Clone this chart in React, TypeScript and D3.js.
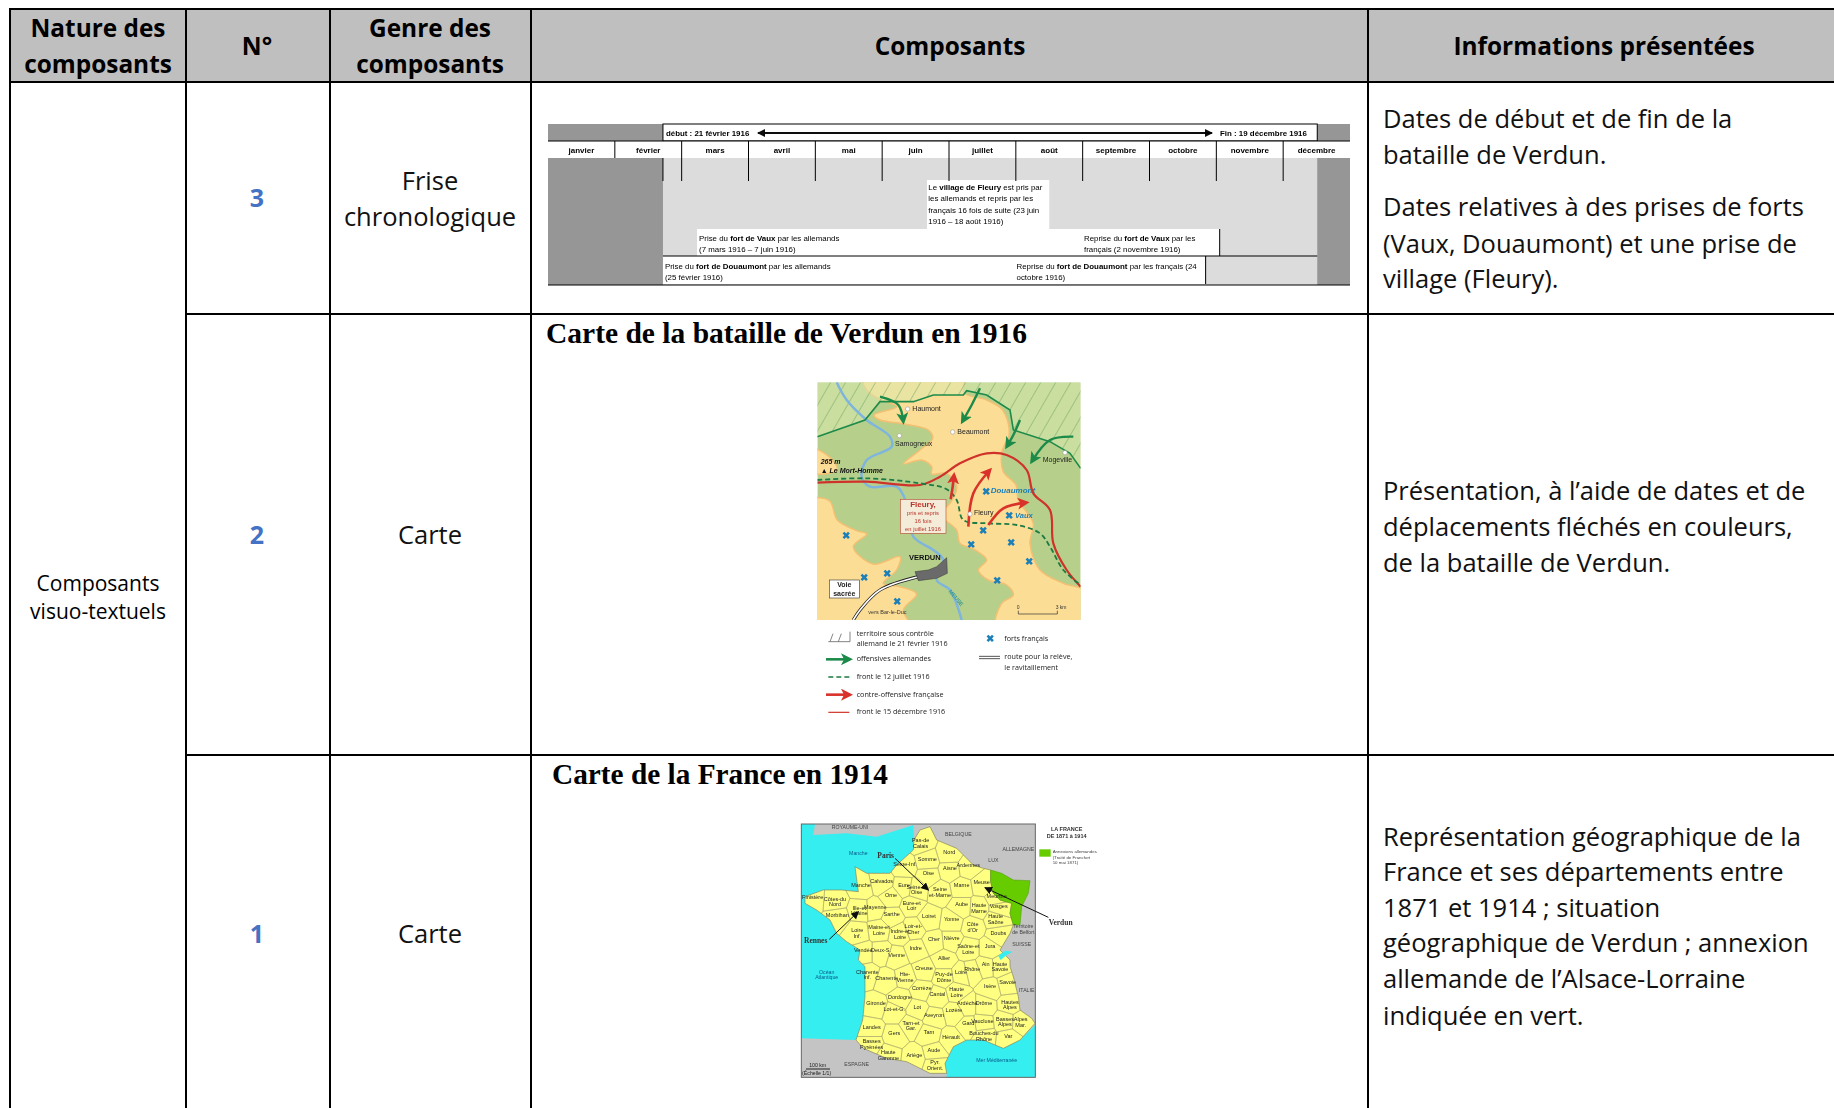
import * as React from 'react';
import { scaleLinear, scaleBand, line, curveCatmullRom, curveCatmullRomClosed, curveLinear, Delaunay } from 'd3';

type Pt = [number, number];

// table
const colLines = [10, 186, 330, 531, 1368];
const rowLines = [9, 82, 314, 755];
const headerLabels: [string[], number][] = [
    [['Nature des', 'composants'], 98],
    [['N°'], 257],
    [['Genre des', 'composants'], 430],
    [['Composants'], 950],
    [['Informations présentées'], 1604],
];
const rowNumbers: [string, number][] = [['3', 198], ['2', 535], ['1', 934]];
const genres: [string, number][] = [['Frise', 190], ['chronologique', 226], ['Carte', 544], ['Carte', 943]];
const infoLines: [string, number][] = [
    ['Dates de début et de fin de la', 128],
    ['bataille de Verdun.', 164],
    ['Dates relatives à des prises de forts', 216],
    ['(Vaux, Douaumont) et une prise de', 253],
    ['village (Fleury).', 288],
    ['Présentation, à l’aide de dates et de', 500],
    ['déplacements fléchés en couleurs,', 536],
    ['de la bataille de Verdun.', 572],
    ['Représentation géographique de la', 846],
    ['France et ses départements entre', 881],
    ['1871 et 1914 ; situation', 917],
    ['géographique de Verdun ; annexion', 952],
    ['allemande de l’Alsace-Lorraine', 988],
    ['indiquée en vert.', 1025],
];

// frise: positions in months since 1 January 1916
const months = ['janvier', 'février', 'mars', 'avril', 'mai', 'juin', 'juillet', 'août', 'septembre', 'octobre', 'novembre', 'décembre'];
const battleStart = 1.72;
const battleEnd = 11.51;
type Seg = [string, boolean];
type TimelineNote = { at: number; y: number; segs: Seg[] };
const timelineBoxes: [number, number, number, number][] = [
    [5.67, 7.5, 180, 229],
    [2.23, 10.05, 229, 256],
    [1.72, 9.84, 256, 284],
];
const timelineNotes: TimelineNote[] = [
    { at: 5.69, y: 190, segs: [['Le ', false], ['village de Fleury', true], [' est pris par', false]] },
    { at: 5.69, y: 201, segs: [['les allemands et repris par les', false]] },
    { at: 5.69, y: 213, segs: [['français 16 fois de suite (23 juin', false]] },
    { at: 5.69, y: 224, segs: [['1916 – 18 août 1916)', false]] },
    { at: 2.26, y: 241, segs: [['Prise du ', false], ['fort de Vaux', true], [' par les allemands', false]] },
    { at: 2.26, y: 252, segs: [['(7 mars 1916 – 7 juin 1916)', false]] },
    { at: 8.02, y: 241, segs: [['Reprise du ', false], ['fort de Vaux', true], [' par les', false]] },
    { at: 8.02, y: 252, segs: [['français (2 novembre 1916)', false]] },
    { at: 1.75, y: 269, segs: [['Prise du ', false], ['fort de Douaumont', true], [' par les allemands', false]] },
    { at: 1.75, y: 280, segs: [['(25 février 1916)', false]] },
    { at: 7.01, y: 269, segs: [['Reprise du ', false], ['fort de Douaumont', true], [' par les français (24', false]] },
    { at: 7.01, y: 280, segs: [['octobre 1916)', false]] },
];

// carte de Verdun, outlines (picture units, 3 per pixel)
const verdunLandNorth: Pt[] = [[190, 20], [490, 20], [492, 68], [560, 90], [608, 120], [628, 190], [606, 245], [610, 305], [648, 345], [655, 390], [700, 460], [690, 520], [720, 600], [790, 640], [860, 665], [860, 770], [590, 770], [605, 700], [640, 675], [620, 645], [565, 630], [535, 600], [560, 570], [525, 540], [480, 520], [470, 480], [420, 432], [450, 400], [470, 350], [440, 310], [395, 312], [395, 290], [365, 270], [310, 282], [360, 240], [398, 205], [385, 180], [300, 160], [240, 150], [222, 135], [290, 110], [240, 88], [200, 60]];
const verdunLandWest: Pt[] = [[30, 392], [88, 392], [112, 450], [170, 482], [200, 492], [160, 530], [220, 582], [300, 560], [290, 600], [250, 640], [300, 650], [350, 672], [310, 720], [330, 770], [30, 770]];
const verdunLandSmall: Pt[] = [[30, 235], [90, 262], [112, 300], [30, 306]];
const verdunHatched: Pt[] = [[52, 37], [842, 37], [842, 295], [810, 250], [750, 215], [640, 180], [630, 120], [560, 75], [500, 62], [490, 75], [400, 75], [340, 95], [240, 95], [195, 150], [52, 200]];
const germanLine: Pt[] = [[52, 200], [195, 150], [240, 95], [340, 95], [400, 75], [490, 75], [500, 62], [560, 75], [630, 120], [640, 180], [750, 215], [810, 250], [842, 295]];
const meuse: Pt[] = [[110, 37], [140, 90], [200, 150], [270, 200], [275, 230], [200, 270], [185, 320], [210, 350], [290, 350], [320, 400], [340, 500], [400, 540], [430, 570], [410, 630], [450, 660], [485, 750]];
const frontDec: Pt[] = [[52, 338], [200, 335], [360, 345], [420, 320], [480, 280], [560, 250], [620, 255], [680, 300], [700, 370], [750, 420], [760, 520], [800, 600], [842, 650]];
const frontJul: Pt[] = [[52, 330], [200, 325], [360, 340], [440, 358], [470, 390], [490, 450], [560, 460], [650, 465], [720, 490], [750, 530], [790, 600], [842, 645]];
const germanArrows: Pt[][] = [
    [[240, 80], [295, 105], [310, 155]],
    [[540, 55], [515, 105], [487, 155]],
    [[660, 150], [640, 195], [620, 230]],
    [[820, 200], [750, 210], [695, 275]],
];
const frenchArrows: Pt[][] = [
    [[452, 388], [458, 350], [462, 315]],
    [[505, 470], [520, 370], [570, 300]],
    [[565, 465], [610, 415], [680, 398]],
];
const forts: Pt[] = [[557, 363], [628, 437], [549, 482], [512, 523], [634, 517], [686, 575], [591, 630], [138, 495], [193, 621], [262, 609], [292, 695]];
const villages: Pt[] = [[323, 117], [458, 186], [298, 197], [795, 248], [510, 432]];
const verdunTown: Pt[] = [[345, 605], [385, 600], [410, 590], [440, 563], [442, 610], [410, 625], [355, 632]];
const sacredRoad: Pt[] = [[355, 620], [240, 660], [180, 720], [160, 750]];
const verdunLabels: [string, number, number, number, string, string][] = [
    ['Haumont', 337, 122, 7, '#222', 'normal'],
    ['Beaumont', 472, 191, 7, '#222', 'normal'],
    ['Samogneux', 285, 229, 7, '#222', 'normal'],
    ['Mogeville', 728, 277, 7, '#222', 'normal'],
    ['Fleury', 522, 434, 7, '#222', 'normal'],
    ['VERDUN', 327, 569, 7.5, '#111', 'bold'],
    ['vers Bar-le-Duc', 205, 732, 5.5, '#333', 'normal'],
    ['0', 650, 716, 5, '#333', 'normal'],
    ['3 km', 767, 716, 5, '#333', 'normal'],
];
const verdunItalic: [string, number, number, number, string][] = [
    ['265 m', 62, 281, 7, '#111'],
    ['▲ Le Mort-Homme', 62, 308, 7, '#111'],
    ['Douaumont', 572, 368, 8, '#1c7fb8'],
    ['Vaux', 645, 444, 7.5, '#1c7fb8'],
];
const fleuryBox: [string, number, number, string][] = [
    ['Fleury,', 369, 410, 'bold'],
    ['pris et repris', 369, 434, 'normal'],
    ['16 fois', 369, 458, 'normal'],
    ['en juillet 1916', 369, 483, 'normal'],
];
const verdunLegend: [string, number, number][] = [
    ['territoire sous contrôle', 170, 77],
    ['allemand le 21 février 1916', 170, 109],
    ['offensives allemandes', 170, 154],
    ['front le 12 juillet 1916', 170, 207],
    ['contre-offensive française', 170, 261],
    ['front le 15 décembre 1916', 170, 313],
    ['forts français', 613, 92],
    ['route pour la relève,', 613, 147],
    ['le ravitaillement', 613, 179],
];

// carte de France (picture units, 3 per pixel)
const franceOutline: Pt[] = [[402, 90], [420, 60], [450, 50], [470, 90], [530, 115], [580, 165], [610, 175], [632, 180], [632, 215], [640, 250], [660, 270], [695, 280], [690, 310], [700, 345], [690, 370], [660, 420], [690, 450], [690, 470], [700, 500], [715, 560], [720, 600], [755, 625], [765, 640], [720, 690], [670, 715], [610, 690], [560, 690], [520, 710], [495, 760], [500, 790], [450, 790], [380, 755], [320, 745], [250, 715], [228, 690], [248, 630], [255, 560], [255, 470], [235, 450], [240, 420], [200, 395], [170, 370], [150, 330], [110, 300], [75, 280], [75, 260], [130, 240], [185, 240], [235, 245], [225, 170], [260, 190], [330, 190], [350, 165], [400, 120]];
const alsaceLorraine: Pt[] = [[632, 180], [665, 190], [700, 210], [750, 212], [745, 250], [725, 290], [720, 345], [700, 345], [690, 310], [695, 280], [660, 270], [640, 250], [632, 215]];
const atlantic: Pt[] = [[64, 42], [105, 42], [100, 75], [200, 70], [290, 80], [400, 45], [402, 90], [400, 120], [350, 165], [330, 190], [260, 190], [225, 170], [235, 245], [185, 240], [130, 240], [75, 260], [75, 280], [110, 300], [150, 330], [170, 370], [200, 395], [240, 420], [235, 450], [255, 470], [255, 560], [248, 630], [228, 690], [64, 685]];
const mediterranean: Pt[] = [[500, 802], [500, 790], [495, 760], [520, 710], [560, 690], [610, 690], [670, 715], [720, 690], [766, 645], [766, 802]];
const leman: Pt[] = [[655, 438], [675, 422], [698, 425], [680, 435], [662, 450]];
const departments: [string[], number, number][] = [
    [['Pas-de', 'Calais'], 422, 92], [['Nord'], 508, 128], [['Somme'], 442, 148], [['Aisne'], 510, 175], [['Ardennes'], 565, 168], [['Oise'], 445, 192],
    [['Seine-Inf.'], 375, 165], [['Eure'], 372, 226], [['Calvados'], 305, 215], [['Manche'], 243, 228], [['Orne'], 333, 257], [['Seine-et', 'Oise'], 410, 232],
    [['Seine', 'et-Marne'], 480, 240], [['Marne'], 545, 228], [['Meuse'], 605, 218], [['Meurthe'], 650, 260], [['Vosges'], 656, 290], [['Aube'], 545, 285],
    [['Haute', 'Marne'], 597, 288], [['Côtes-du', 'Nord'], 165, 268], [['Finistère'], 98, 263], [['Morbihan'], 172, 316], [['Ille-et', 'Vilaine'], 238, 295],
    [['Mayenne'], 286, 293], [['Sarthe'], 335, 315], [['Eure-et', 'Loir'], 395, 280], [['Loiret'], 447, 320], [['Yonne'], 515, 330], [['Côte', 'd’Or'], 578, 345],
    [['Haute', 'Saône'], 647, 320], [['Doubs'], 655, 372], [['Loire', 'Inf.'], 232, 362], [['Maine-et', 'Loire'], 297, 353], [['Indre-et', 'Loire'], 360, 365],
    [['Loir-et-', 'Cher'], 400, 350], [['Cher'], 462, 390], [['Nièvre'], 515, 385], [['Saône-et', 'Loire'], 565, 410], [['Jura'], 630, 410], [['Vendée'], 250, 423],
    [['Deux-S.'], 303, 423], [['Vienne'], 350, 437], [['Indre'], 407, 415], [['Allier'], 492, 445], [['Ain'], 617, 465], [['Haute', 'Savoie'], 660, 463],
    [['Savoie'], 683, 517], [['Rhône'], 577, 480], [['Isère'], 630, 530], [['Loire'], 543, 488], [['Creuse'], 432, 475], [['Puy-de', 'Dôme'], 492, 495],
    [['Hte-', 'Vienne'], 375, 495], [['Charente', 'Inf.'], 262, 487], [['Charente'], 320, 505], [['Dordogne'], 360, 562], [['Corrèze'], 425, 535], [['Cantal'], 472, 555],
    [['Haute', 'Loire'], 530, 540], [['Ardèche'], 562, 582], [['Drôme'], 612, 582], [['Hautes', 'Alpes'], 690, 577], [['Gironde'], 288, 582], [['Lot'], 412, 593],
    [['Lozère'], 522, 603], [['Aveyron'], 462, 617], [['Lot-et-G.'], 343, 600], [['Landes'], 275, 652], [['Gers'], 343, 672], [['Tarn-et', 'Gar.'], 393, 640],
    [['Tarn'], 447, 668], [['Gard'], 565, 642], [['Vaucluse'], 607, 635], [['Basses', 'Alpes'], 675, 628], [['Alpes', 'Mar.'], 722, 630], [['Hérault'], 513, 683],
    [['Bouches-du', 'Rhône'], 612, 672], [['Var'], 685, 680], [['Haute', 'Garonne'], 325, 728], [['Basses', 'Pyrénées'], 275, 695], [['Ariège'], 403, 737], [['Aude'], 462, 722], [['Pyr.', 'Orient.'], 465, 758],
];
const francePlaces: [string[], number, number, string][] = [
    [['ROYAUME-UNI'], 210, 57, '#444'], [['BELGIQUE'], 535, 77, '#444'], [['ALLEMAGNE'], 715, 122, '#444'], [['LUX'], 640, 157, '#444'],
    [['Territoire', 'de Belfort'], 730, 355, '#444'], [['SUISSE'], 725, 407, '#444'], [['ITALIE'], 740, 547, '#444'], [['ESPAGNE'], 230, 767, '#444'],
    [['Manche'], 235, 135, '#0a5c8c'], [['Océan', 'Atlantique'], 140, 492, '#0a5c8c'], [['Mer Méditerranée'], 650, 757, '#0a5c8c'],
    [['100 km'], 113, 770, '#222'], [['(Échelle 1/1)'], 110, 795, '#222'],
];
const franceCities: [string, number, number][] = [['Paris', 292, 144], ['Rennes', 72, 399], ['Verdun', 806, 344]];
const cityArrows: Pt[][] = [
    [[345, 145], [445, 240]],
    [[148, 388], [235, 305]],
    [[805, 322], [615, 233]],
];
const franceLegend: [string, number, number, string][] = [
    ['Annexions allemandes', 818, 130, 'normal'],
    ['(Traité de Francfort', 818, 146, 'normal'],
    ['10 mai 1871)', 818, 161, 'normal'],
];

const uiFont = '"Open Sans", sans-serif';
const arial = '"Liberation Sans", Arial, sans-serif';
const times = '"Liberation Serif", serif';

const mapX = scaleLinear().domain([0, 900]).range([800, 1100]);
const mapY = scaleLinear().domain([0, 780]).range([370, 630]);
const legendY = scaleLinear().domain([0, 360]).range([610, 730]);
const frX = scaleLinear().domain([0, 1020]).range([780, 1120]);
const frY = scaleLinear().domain([0, 894]).range([810, 1108]);
const monthBand = scaleBand<string>().domain(months).range([548, 1350]);
const monthPos = scaleLinear().domain([0, 12]).range([548, 1350]);

const smooth = line<Pt>().x(d => mapX(d[0])).y(d => mapY(d[1])).curve(curveCatmullRom);
const landPath = line<Pt>().x(d => mapX(d[0])).y(d => mapY(d[1])).curve(curveCatmullRomClosed);
const frPath = line<Pt>().x(d => frX(d[0])).y(d => frY(d[1])).curve(curveLinear);
const mapPoly = line<Pt>().x(d => mapX(d[0])).y(d => mapY(d[1])).curve(curveLinear);

const franceCells = () => {
    const sites = departments.map(d => [d[1], d[2] + 6] as Pt);
    const vor = Delaunay.from(sites).voronoi([64, 42, 766, 802]);
    return sites.map((_, i) => vor.renderCell(i));
};

export default function App() {
    React.useEffect(() => {
        document.body.style.margin = '0';
    }, []);

    const frTransform = `translate(${frX(0)},${frY(0)}) scale(${1 / 3})`;

    return (
        <svg width={1834} height={1108} style={{ position: 'absolute', left: 0, top: 0, background: '#fff' }}>
            <defs>
                <filter id="soft" x="-5%" y="-5%" width="110%" height="110%">
                    <feGaussianBlur stdDeviation="0.5" />
                </filter>
                <filter id="softer" x="-5%" y="-5%" width="110%" height="110%">
                    <feGaussianBlur stdDeviation="0.28" />
                </filter>
                <filter id="softmid" x="-5%" y="-5%" width="110%" height="110%">
                    <feGaussianBlur stdDeviation="0.4" />
                </filter>
                <pattern id="hatch" width="13" height="13" patternUnits="userSpaceOnUse" patternTransform="rotate(30)">
                    <line x1="0" y1="0" x2="0" y2="13" stroke="#6fa463" strokeWidth="1" />
                </pattern>
                <marker id="headGreen" markerUnits="userSpaceOnUse" markerWidth="13" markerHeight="13" refX="9" refY="6" orient="auto">
                    <path d="M0,0L12,6L0,12L3,6Z" fill="#1e8a4a" />
                </marker>
                <marker id="headRed" markerUnits="userSpaceOnUse" markerWidth="13" markerHeight="13" refX="9" refY="6" orient="auto">
                    <path d="M0,0L12,6L0,12L3,6Z" fill="#d8322a" />
                </marker>
                <marker id="headBlack" markerUnits="userSpaceOnUse" markerWidth="10" markerHeight="10" refX="7" refY="4" orient="auto">
                    <path d="M0,0L8,4L0,8Z" fill="#111" />
                </marker>
                <clipPath id="verdunClip">
                    <rect x={mapX(52)} y={mapY(37)} width={mapX(842) - mapX(52)} height={mapY(750) - mapY(37)} />
                </clipPath>
                <clipPath id="franceClip">
                    <path d={frPath(franceOutline) + 'Z'} />
                </clipPath>
            </defs>

            {/* header band */}
            <rect x={colLines[0]} y={rowLines[0]} width={1834 - colLines[0]} height={rowLines[1] - rowLines[0]} fill="#bfbfbf" />
            {headerLabels.map(([lines, cx], i) => (
                <text key={i} textAnchor="middle" fontFamily={uiFont} fontWeight={700} fontSize={24.4} fill="#000">
                    {lines.map((l, j) => (
                        <tspan key={j} x={cx} y={lines.length > 1 ? 37 + j * 36 : 55}>{l}</tspan>
                    ))}
                </text>
            ))}

            {/* row labels */}
            <text x={98} textAnchor="middle" fontFamily={uiFont} fontSize={21} fill="#000">
                <tspan x={98} y={591}>Composants</tspan>
                <tspan x={98} y={619}>visuo-textuels</tspan>
            </text>
            {rowNumbers.map(([n, y]) => (
                <text key={n} x={257} y={y + 9} textAnchor="middle" fontFamily={uiFont} fontWeight={700} fontSize={25} fill="#4472c4">{n}</text>
            ))}
            {genres.map(([g, y], i) => (
                <text key={i} x={430} y={y} textAnchor="middle" fontFamily={uiFont} fontSize={25.5} fill="#111">{g}</text>
            ))}
            {infoLines.map(([t, y], i) => (
                <text key={i} x={1383} y={y} fontFamily={uiFont} fontSize={25.5} fill="#111">{t}</text>
            ))}

            {/* frise */}
            <g filter="url(#softer)">
                <rect x={monthPos(0)} y={124} width={monthPos(12) - monthPos(0)} height={161} fill="#969696" />
                <rect x={monthPos(battleStart)} y={158} width={monthPos(11.51) - monthPos(battleStart)} height={127} fill="#dcdcdc" />
                <rect x={monthPos(battleStart)} y={124} width={monthPos(battleEnd) - monthPos(battleStart)} height={17} fill="#fff" stroke="#000" />
                <rect x={monthPos(0)} y={141} width={monthPos(12) - monthPos(0)} height={17} fill="#fff" />
                {timelineBoxes.map(([a, b, y0, y1], i) => (
                    <rect key={i} x={monthPos(a)} y={y0} width={monthPos(b) - monthPos(a)} height={y1 - y0} fill="#fff" />
                ))}
                <line x1={monthPos(battleStart)} x2={monthPos(11.51)} y1={256} y2={256} stroke="#000" />
                <line x1={monthPos(10.05)} x2={monthPos(10.05)} y1={229} y2={256} stroke="#000" />
                <line x1={monthPos(9.84)} x2={monthPos(9.84)} y1={256} y2={284} stroke="#000" />
                <line x1={monthPos(0)} x2={monthPos(12)} y1={285} y2={285} stroke="#000" strokeWidth={1.2} />
                <line x1={monthPos(0)} x2={monthPos(12)} y1={141} y2={141} stroke="#000" />
                <line x1={monthPos(battleStart)} x2={monthPos(battleStart)} y1={158} y2={181} stroke="#000" />
                {months.map((m, i) => (
                    i > 0 && <line key={m} x1={monthBand(m)} x2={monthBand(m)} y1={141} y2={i > 1 ? 181 : 158} stroke="#000" />
                ))}
                {months.map(m => (
                    <text key={m} x={monthBand(m)! + monthBand.bandwidth() / 2} y={153} textAnchor="middle" fontFamily={arial} fontWeight={700} fontSize={8} fill="#000">{m}</text>
                ))}
                <text x={monthPos(battleStart) + 3} y={136} fontFamily={arial} fontWeight={700} fontSize={7.9} fill="#000">début : 21 février 1916</text>
                <text x={1220} y={136} fontFamily={arial} fontWeight={700} fontSize={7.9} fill="#000">Fin : 19 décembre 1916</text>
                <line x1={758} x2={1212} y1={133} y2={133} stroke="#000" strokeWidth={1.5} markerEnd="url(#headBlack)" />
                <line x1={1212} x2={758} y1={133} y2={133} stroke="#000" strokeWidth={1.5} markerEnd="url(#headBlack)" />
                {timelineNotes.map((n, i) => (
                    <text key={i} x={monthPos(n.at)} y={n.y} fontFamily={arial} fontSize={7.9} fill="#000">
                        {n.segs.map(([t, b], j) => <tspan key={j} fontWeight={b ? 700 : 400}>{t}</tspan>)}
                    </text>
                ))}
            </g>

            {/* titres */}
            <text x={546} y={343} fontFamily={times} fontWeight={700} fontSize={29.5} fill="#000">Carte de la bataille de Verdun en 1916</text>
            <text x={552} y={784} fontFamily={times} fontWeight={700} fontSize={29.3} fill="#000">Carte de la France en 1914</text>

            {/* carte Verdun */}
            <g filter="url(#soft)">
                <g clipPath="url(#verdunClip)">
                    <rect x={mapX(52)} y={mapY(37)} width={mapX(842) - mapX(52)} height={mapY(750) - mapY(37)} fill="#b6d08c" />
                    {[verdunLandNorth, verdunLandWest, verdunLandSmall].map((p, i) => (
                        <path key={i} d={landPath(p)!} fill="#fcdd95" stroke="#f3bf72" strokeWidth={1.5} />
                    ))}
                    <path d={mapPoly(verdunHatched) + 'Z'} fill="#dbe9ae" fillOpacity={0.55} />
                    <path d={mapPoly(verdunHatched) + 'Z'} fill="url(#hatch)" />
                    <path d={smooth(meuse)!} fill="none" stroke="#7fb4dc" strokeWidth={2.5} />
                    <path d={mapPoly(germanLine)!} fill="none" stroke="#1e8a4a" strokeWidth={1.6} />
                    <path d={smooth(frontDec)!} fill="none" stroke="#cf3329" strokeWidth={2.2} />
                    <path d={smooth(frontJul)!} fill="none" stroke="#1e7a44" strokeWidth={1.8} strokeDasharray="5 3" />
                    {germanArrows.map((a, i) => (
                        <path key={i} d={smooth(a)!} fill="none" stroke="#1e8a4a" strokeWidth={2.4} markerEnd="url(#headGreen)" />
                    ))}
                    {frenchArrows.map((a, i) => (
                        <path key={i} d={smooth(a)!} fill="none" stroke="#d8322a" strokeWidth={2.6} markerEnd="url(#headRed)" />
                    ))}
                    <path d={smooth(sacredRoad)!} fill="none" stroke="#222" strokeWidth={3.2} />
                    <path d={smooth(sacredRoad)!} fill="none" stroke="#fff" strokeWidth={1.6} />
                    <path d={mapPoly(verdunTown) + 'Z'} fill="#6b6b6b" stroke="#333" strokeWidth={0.5} />
                    {forts.map(([x, y], i) => (
                        <text key={i} x={mapX(x)} y={mapY(y) + 3.6} textAnchor="middle" fontFamily={arial} fontWeight={700} fontSize={10} fill="#1c7fb8">✖</text>
                    ))}
                    {villages.map(([x, y], i) => (
                        <circle key={i} cx={mapX(x)} cy={mapY(y)} r={2.2} fill="#fff" stroke="#999" strokeWidth={0.6} />
                    ))}
                    {verdunLabels.map(([t, x, y, s, c, w]) => (
                        <text key={t} x={mapX(x)} y={mapY(y)} fontFamily={arial} fontSize={s} fontWeight={w} fill={c}>{t}</text>
                    ))}
                    {verdunItalic.map(([t, x, y, s, c]) => (
                        <text key={t} x={mapX(x)} y={mapY(y)} fontFamily={arial} fontStyle="italic" fontWeight={700} fontSize={s} fill={c}>{t}</text>
                    ))}
                    <rect x={mapX(301)} y={mapY(388)} width={mapX(438) - mapX(301)} height={mapY(490) - mapY(388)} fill="#f4ecd8" stroke="#b8442f" strokeWidth={0.6} />
                    {fleuryBox.map(([t, x, y, w]) => (
                        <text key={t} x={mapX(x)} y={mapY(y)} textAnchor="middle" fontFamily={arial} fontWeight={w} fontSize={w === 'bold' ? 8 : 5.8} fill="#b8342a">{t}</text>
                    ))}
                    <rect x={mapX(88)} y={mapY(630)} width={mapX(178) - mapX(88)} height={mapY(684) - mapY(630)} fill="#fff" stroke="#333" strokeWidth={0.6} />
                    <text x={mapX(133)} y={mapY(652)} textAnchor="middle" fontFamily={arial} fontWeight={700} fontSize={7} fill="#222">Voie</text>
                    <text x={mapX(133)} y={mapY(678)} textAnchor="middle" fontFamily={arial} fontWeight={700} fontSize={7} fill="#222">sacrée</text>
                    <text x={mapX(445)} y={mapY(665)} transform={`rotate(50 ${mapX(445)} ${mapY(665)})`} fontFamily={arial} fontWeight={700} fontSize={5.5} fill="#3a9a8e">MEUSE</text>
                    <path d={`M${mapX(655)},${mapY(722)}V${mapY(732)}H${mapX(772)}V${mapY(722)}`} fill="none" stroke="#333" strokeWidth={0.7} />
                </g>

                {/* legende */}
                <path d={`M${mapX(85)},${legendY(95)}H${mapX(150)}V${legendY(65)}M${mapX(90)},${legendY(95)}l3,-8M${mapX(115)},${legendY(95)}l3,-8`} fill="none" stroke="#666" strokeWidth={0.8} />
                <line x1={mapX(78)} x2={mapX(150)} y1={legendY(148)} y2={legendY(148)} stroke="#1e8a4a" strokeWidth={2.6} markerEnd="url(#headGreen)" />
                <line x1={mapX(85)} x2={mapX(148)} y1={legendY(201)} y2={legendY(201)} stroke="#1e7a44" strokeWidth={1.6} strokeDasharray="5 3" />
                <line x1={mapX(78)} x2={mapX(150)} y1={legendY(254)} y2={legendY(254)} stroke="#d8322a" strokeWidth={2.6} markerEnd="url(#headRed)" />
                <line x1={mapX(85)} x2={mapX(148)} y1={legendY(307)} y2={legendY(307)} stroke="#cf3329" strokeWidth={1.2} />
                <text x={mapX(570)} y={legendY(85) + 3.6} textAnchor="middle" fontFamily={arial} fontWeight={700} fontSize={10} fill="#1c7fb8">✖</text>
                <line x1={mapX(537)} x2={mapX(600)} y1={legendY(139)} y2={legendY(139)} stroke="#555" strokeWidth={1} />
                <line x1={mapX(537)} x2={mapX(600)} y1={legendY(146)} y2={legendY(146)} stroke="#555" strokeWidth={1} />
                {verdunLegend.map(([t, x, y]) => (
                    <text key={t} x={mapX(x)} y={legendY(y)} fontFamily={uiFont} fontSize={7.2} fill="#222">{t}</text>
                ))}
            </g>

            {/* carte France */}
            <g filter="url(#softmid)">
                <rect x={frX(64)} y={frY(42)} width={frX(766) - frX(64)} height={frY(802) - frY(42)} fill="#c4c4c4" />
                <path d={frPath(atlantic) + 'Z'} fill="#35eef0" />
                <path d={frPath(mediterranean) + 'Z'} fill="#35eef0" />
                <path d={frPath(franceOutline) + 'Z'} fill="#ffff82" />
                <g clipPath="url(#franceClip)">
                    <g transform={frTransform}>
                        {franceCells().map((d, i) => (
                            <path key={i} d={d} fill="none" stroke="#a6a66c" strokeWidth={1.5} />
                        ))}
                    </g>
                </g>
                <path d={frPath(franceOutline) + 'Z'} fill="none" stroke="#7a7a50" strokeWidth={0.6} />
                <path d={frPath(alsaceLorraine) + 'Z'} fill="#66cc00" stroke="#4c9a00" strokeWidth={0.5} />
                <path d={frPath(leman) + 'Z'} fill="#35eef0" />
                <rect x={frX(64)} y={frY(42)} width={frX(766) - frX(64)} height={frY(802) - frY(42)} fill="none" stroke="#666" strokeWidth={1} />
                <rect x={frX(778)} y={frY(118)} width={frX(812) - frX(778)} height={frY(140) - frY(118)} fill="#66cc00" />
                {departments.map(([lines, x, y], i) => (
                    <text key={i} textAnchor="middle" fontFamily={arial} fontSize={5.5} fill="#222">
                        {lines.map((l, j) => <tspan key={j} x={frX(x)} y={frY(y + 4 + j * 17)}>{l}</tspan>)}
                    </text>
                ))}
                {francePlaces.map(([lines, x, y, c], i) => (
                    <text key={i} textAnchor="middle" fontFamily={arial} fontSize={5.2} fill={c}>
                        {lines.map((l, j) => <tspan key={j} x={frX(x)} y={frY(y + j * 16)}>{l}</tspan>)}
                    </text>
                ))}
                <line x1={frX(78)} x2={frX(150)} y1={frY(777)} y2={frY(777)} stroke="#222" strokeWidth={1} />
                {cityArrows.map((a, i) => (
                    <path key={i} d={frPath(a)!} fill="none" stroke="#111" strokeWidth={1} markerEnd="url(#headBlack)" />
                ))}
                {franceCities.map(([t, x, y]) => (
                    <text key={t} x={frX(x)} y={frY(y)} fontFamily={times} fontWeight={700} fontSize={7.5} fill="#333">{t}</text>
                ))}
                <text textAnchor="middle" fontFamily={arial} fontWeight={700} fontSize={5.5} fill="#333">
                    <tspan x={frX(860)} y={frY(62)}>LA FRANCE</tspan>
                    <tspan x={frX(860)} y={frY(83)}>DE 1871 à 1914</tspan>
                </text>
                {franceLegend.map(([t, x, y, w]) => (
                    <text key={t} x={frX(x)} y={frY(y)} fontFamily={arial} fontWeight={w} fontSize={4.4} fill="#444">{t}</text>
                ))}
            </g>

            {/* grid */}
            {colLines.map(x => (
                <line key={x} x1={x} x2={x} y1={rowLines[0] - 1} y2={1108} stroke="#000" strokeWidth={2} />
            ))}
            <line x1={colLines[0] - 1} x2={1834} y1={rowLines[0]} y2={rowLines[0]} stroke="#000" strokeWidth={2} />
            <line x1={colLines[0] - 1} x2={1834} y1={rowLines[1]} y2={rowLines[1]} stroke="#000" strokeWidth={2} />
            {rowLines.slice(2).map(y => (
                <line key={y} x1={colLines[1]} x2={1834} y1={y} y2={y} stroke="#000" strokeWidth={2} />
            ))}
        </svg>
    );
}
